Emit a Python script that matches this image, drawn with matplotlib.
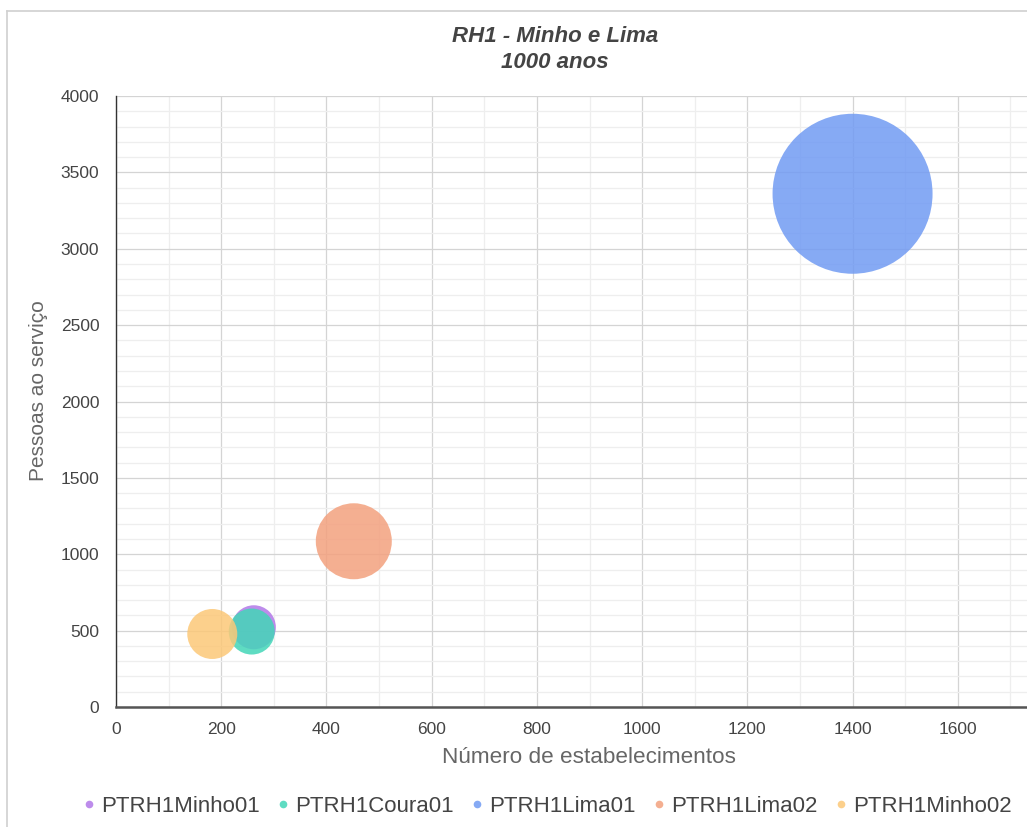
import matplotlib
matplotlib.use("Agg")
import matplotlib.pyplot as plt
from matplotlib.lines import Line2D
from matplotlib.ticker import MultipleLocator, FixedLocator

plt.rcParams['font.family'] = ['Liberation Sans', 'DejaVu Sans']

# massas de agua, RH1 (cenario 1000 anos)
series = ['PTRH1Minho01', 'PTRH1Coura01', 'PTRH1Lima01', 'PTRH1Lima02', 'PTRH1Minho02']
estabelecimentos = [262, 258, 1400, 452, 183]
pessoas = [522, 494, 3360, 1085, 478]
bolha = [22, 23, 80, 38, 25]   # tamanho relativo da bolha
cores = ['#b278e8', '#43d6b8', '#719bf3', '#f3a17e', '#fcc878']
xticks = [0, 200, 400, 600, 800, 1000, 1200, 1400, 1600]

fig = plt.figure(figsize=(10.27, 8.27), dpi=100)
W, H = 1027, 827
ax = fig.add_axes([116 / W, 1 - 707 / H, (1063 - 116) / W, (707 - 96) / H])

for nome, x, y, b, c in zip(series, estabelecimentos, pessoas, bolha, cores):
    ax.scatter(x, y, s=(2 * b * 0.72) ** 2, color=c, alpha=0.85,
               edgecolors='none', zorder=3, label=nome)

ax.set_xlim(0, 1800)
ax.set_ylim(0, 4000)
ax.xaxis.set_major_locator(FixedLocator(xticks))
ax.xaxis.set_minor_locator(MultipleLocator(100))
ax.yaxis.set_major_locator(MultipleLocator(500))
ax.yaxis.set_minor_locator(MultipleLocator(100))
ax.grid(which='major', color='#d4d4d4', lw=0.9, zorder=0)
ax.grid(which='minor', color='#eeeeee', lw=0.9, zorder=0)
ax.set_axisbelow(True)
ax.tick_params(which='both', length=0)
ax.tick_params(axis='y', pad=12, labelsize=12.5, labelcolor='#444444')
ax.tick_params(axis='x', pad=11, labelsize=12.5, labelcolor='#444444')

for s in ['top', 'right']:
    ax.spines[s].set_visible(False)
ax.spines['left'].set_color('#333333')
ax.spines['left'].set_linewidth(1.0)
ax.spines['bottom'].set_color('#555555')
ax.spines['bottom'].set_linewidth(1.8)

ax.set_xlabel('Número de estabelecimentos', fontsize=16.2, color='#666666', labelpad=7)
ax.set_ylabel('Pessoas ao serviço', fontsize=15, color='#666666')
ax.yaxis.set_label_coords(-0.072, 0.517)

fig.text(555 / W, 1 - 36 / H, 'RH1 - Minho e Lima', ha='center', va='center',
         fontsize=16, fontweight='bold', fontstyle='italic', color='#444444')
fig.text(555 / W, 1 - 63 / H, '1000 anos', ha='center', va='center',
         fontsize=16, fontweight='bold', fontstyle='italic', color='#444444')

handles = [Line2D([], [], ls='none', marker='o', markersize=5.5, color=c, alpha=0.85,
                  markeredgewidth=0) for c in cores]
fig.legend(handles, series, loc='center left', bbox_to_anchor=(83 / W, 1 - 806 / H),
           ncol=5, frameon=False, fontsize=16, handlelength=0.5, handletextpad=0.3,
           columnspacing=0.8, labelcolor='#444444', borderpad=0.0, borderaxespad=0.0)

# moldura do grafico
fig.add_artist(Line2D([7 / W, 7 / W], [0, 1 - 11 / H], color='#d0d0d0', lw=1.2))
fig.add_artist(Line2D([7 / W, 1], [1 - 11 / H, 1 - 11 / H], color='#d0d0d0', lw=1.2))

fig.savefig('out.png', dpi=100)
